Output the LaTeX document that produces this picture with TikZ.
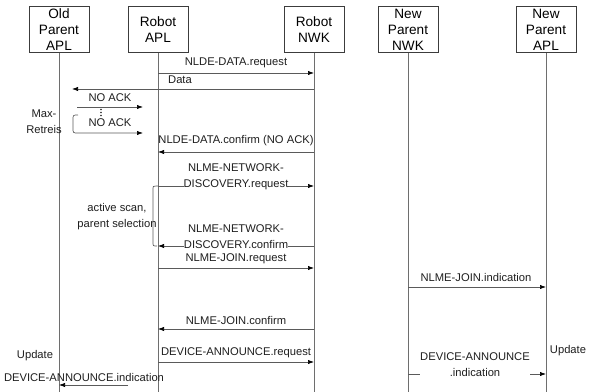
\documentclass[tikz,border=0pt]{standalone}
\usepackage{fontspec}
\setmainfont{Liberation Sans}
\usetikzlibrary{arrows.meta}

\tikzset{every picture/.style={line width=0.75pt}}
\tikzset{
  lbox/.style={draw={rgb,255:red,60;green,60;blue,60}, minimum width=45pt, minimum height=34.5pt, inner sep=0pt, align=center, font=\fontsize{10.2}{12}\selectfont},
  life/.style={draw={rgb,255:red,110;green,110;blue,110}, line width=0.5pt},
  msg/.style={draw={rgb,255:red,90;green,90;blue,90}, line width=0.5pt, -{Latex[length=4.5pt,width=3.2pt,color=black]}},
  plain/.style={draw={rgb,255:red,90;green,90;blue,90}, line width=0.5pt},
  lbl/.style={inner sep=0.75pt, align=center, text={rgb,255:red,30;green,30;blue,30}, font=\fontsize{8.4}{12}\selectfont},
  gap/.style={lbl, fill=white, inner xsep=0pt}
}

\begin{document}
\begin{tikzpicture}[x=0.75pt,y=0.75pt,yscale=-1,xscale=1]
\useasboundingbox (0,0) rectangle (594,392);

%Lifeline heads
\node[lbox] (oapl) at (59,30) {Old\\Parent\\APL};
\node[lbox] (rapl) at (158,30) {Robot\\APL};
\node[lbox] (rnwk) at (314,30) {Robot\\NWK};
\node[lbox] (pnwk) at (408,30) {New\\Parent\\NWK};
\node[lbox] (papl) at (546,30) {New\\Parent\\APL};

%Lifelines
\foreach \n in {oapl,rapl,rnwk,pnwk,papl}
  \draw[life] (\n.south) -- (\n |- 0,392);

%Free ends
\coordinate (dataend) at (72,89);
\coordinate (ackA) at (77,107);
\coordinate (ackAend) at (143,107);
\coordinate (ackB) at (78,115);
\coordinate (ackBend) at (143,133);
\coordinate (annstart) at (128,385);

% NLDE-DATA.request
\draw[msg] (rapl |- 0,73) -- (rnwk |- 0,73);
\node[lbl] (t1) at (236,63) {NLDE-DATA.request};
% Data
\draw[msg] (rnwk |- 0,89) -- (dataend);
\node[lbl] (t2) at (180,80) {Data};
% NO ACK
\draw[msg] (ackA) -- (ackAend);
\node[lbl] (t3) at (110,98) {NO ACK};
\foreach \y in {109.5,112.5,115.5}
  \fill[black!85] (101,\y) circle (0.8);
\draw[msg] (ackB) .. controls (73,115) .. (73,120) -- (73,128) .. controls (73,133) .. (78,133) -- (ackBend);
\node[lbl] (t4) at (110,123) {NO ACK};
\node[lbl] (maxr) at (44,122) {Max-\\Retreis};
% NLDE-DATA.confirm
\draw[msg] (rnwk |- 0,152) -- (rapl |- 0,152);
\node[lbl] (t5) at (236,141) {NLDE-DATA.confirm (NO ACK)};
% NLME-NETWORK-DISCOVERY
\draw[plain] (rapl |- 0,186) -- (156,186) .. controls (153,186) .. (153,190) -- (153,242) .. controls (153,246) .. (157,246);
\draw[msg] (rapl |- 0,186) -- (rnwk |- 0,186);
\node[gap] (t6) at (236,177) {NLME-NETWORK-\\DISCOVERY.request};
\node[lbl] (scan) at (117,217) {active scan,\\parent selection};
\draw[msg] (rnwk |- 0,246) -- (rapl |- 0,246);
\node[gap] (t7) at (236,237) {NLME-NETWORK-\\DISCOVERY.confirm};
% NLME-JOIN
\draw[msg] (rapl |- 0,268) -- (rnwk |- 0,268);
\node[lbl] (t8) at (236,259) {NLME-JOIN.request};
\draw[msg] (pnwk |- 0,287) -- (papl |- 0,287);
\node[lbl] (t9) at (476,277) {NLME-JOIN.indication};
\draw[msg] (rnwk |- 0,329) -- (rapl |- 0,329);
\node[lbl] (t10) at (236,320) {NLME-JOIN.confirm};
% DEVICE-ANNOUNCE
\draw[msg] (rapl |- 0,362) -- (rnwk |- 0,362);
\node[lbl] (t11) at (236,353) {DEVICE-ANNOUNCE.request};
\node[lbl] (upd1) at (35,356) {Update};
\node[lbl] (upd2) at (568,351) {Update};
\draw[msg] (annstart) -- (oapl |- 0,385);
\node[lbl] (t12) at (84,377) {DEVICE-ANNOUNCE.indication};
\draw[msg] (pnwk |- 0,374) -- (papl |- 0,374);
\node[gap] (t13) at (475,365) {DEVICE-ANNOUNCE\\.indication};

\end{tikzpicture}
\end{document}
